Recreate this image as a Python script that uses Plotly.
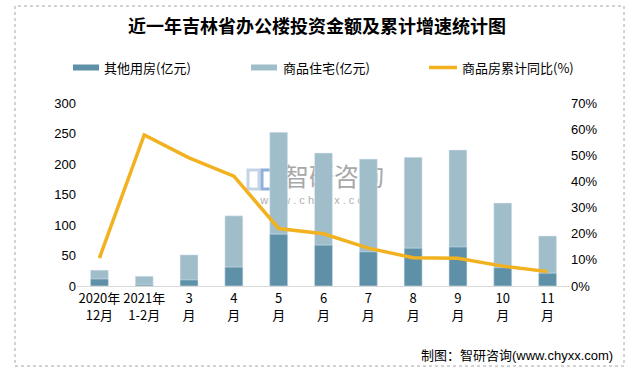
import plotly.graph_objects as go

categories = ["2020年<br>12月", "2021年<br>1-2月", "3<br>月", "4<br>月", "5<br>月", "6<br>月",
              "7<br>月", "8<br>月", "9<br>月", "10<br>月", "11<br>月"]
other_use = [11.5, 2, 10, 31, 85, 67, 56, 62, 64, 30, 21]
residential = [26, 16, 51, 115, 252, 218, 208, 211, 223, 136, 82]
yoy_pct = [10.7, 57.8, 49, 42, 22, 20, 14.5, 10.8, 10.6, 7.6, 5.5]

C_DARK = "#5e90a7"
C_LIGHT = "#a0bdca"
C_LINE = "#f2b220"

font_fam = "Liberation Sans, Noto Sans CJK SC, sans-serif"
cjk = "Noto Sans CJK SC, sans-serif"

# plot area in pixels
L, R, T, B = 77, 570, 103, 286
W, H = R - L, B - T


def px(x):
    return (x - L) / W


def py(y):
    return (B - y) / H


fig = go.Figure()
fig.add_trace(go.Bar(x=categories, y=residential, name="商品住宅(亿元)",
                     marker_color=C_LIGHT, width=0.4, yaxis="y", showlegend=False))
fig.add_trace(go.Bar(x=categories, y=other_use, name="其他用房(亿元)",
                     marker_color=C_DARK, width=0.4, yaxis="y", showlegend=False))
fig.add_trace(go.Scatter(x=categories, y=[v / 100 for v in yoy_pct], name="商品房累计同比(%)",
                         mode="lines", line=dict(color=C_LINE, width=3.5), yaxis="y2",
                         showlegend=False))

fig.update_layout(
    width=634, height=373,
    margin=dict(l=L, r=634 - R, t=T, b=373 - B, autoexpand=False),
    paper_bgcolor="white", plot_bgcolor="white",
    barmode="overlay",
    font=dict(family=font_fam, size=13, color="#000000"),
    title=dict(text="<b>近一年吉林省办公楼投资金额及累计增速统计图</b>",
               x=0.5, xanchor="center", y=1 - 27 / 373, yanchor="middle",
               font=dict(family=cjk, size=18, color="#000000")),
    showlegend=False,
    xaxis=dict(showline=True, linecolor="#d9d9d9", linewidth=1, ticks="",
               tickfont=dict(family=cjk, size=13), showgrid=False),
    yaxis=dict(range=[0, 300], dtick=50, showgrid=False, zeroline=False, ticks="",
               tickfont=dict(family=font_fam, size=13)),
    yaxis2=dict(range=[0, 0.7], dtick=0.1, tickformat=".0%", overlaying="y", side="right",
                showgrid=False, zeroline=False, ticks="",
                tickfont=dict(family=font_fam, size=13)),
)

# outer dotted frame
fig.add_shape(type="rect", xref="paper", yref="paper",
              x0=px(15), x1=px(624), y0=py(366), y1=py(6),
              line=dict(color="#a6a6a6", width=1, dash="dot"))

# manual legend
legend_items = [
    ("bar", C_DARK, 73, 99, "其他用房(亿元)", 102),
    ("bar", C_LIGHT, 251, 277, "商品住宅(亿元)", 281),
    ("line", C_LINE, 429, 457, "商品房累计同比(%)", 460),
]
for kind, col, x0, x1, label, tx in legend_items:
    if kind == "bar":
        fig.add_shape(type="rect", xref="paper", yref="paper",
                      x0=px(x0), x1=px(x1), y0=py(70.5), y1=py(64.5),
                      fillcolor=col, line=dict(width=0))
    else:
        fig.add_shape(type="line", xref="paper", yref="paper",
                      x0=px(x0), x1=px(x1), y0=py(67.5), y1=py(67.5),
                      line=dict(color=col, width=3.5))
    fig.add_annotation(text=label, xref="paper", yref="paper", x=px(tx), xanchor="left",
                       y=py(67.5), yanchor="middle", showarrow=False,
                       font=dict(family=cjk, size=13, color="#000000"))

# watermark (behind bars)
fig.add_shape(type="rect", xref="paper", yref="paper", layer="below",
              x0=px(278), x1=px(390), y0=py(190), y1=py(168),
              line=dict(width=0), fillcolor="rgba(0,0,0,0)",
              label=dict(text="智研咨询", font=dict(family=cjk, size=25, color="#a8a8a8")))
fig.add_shape(type="rect", xref="paper", yref="paper", layer="below",
              x0=px(246), x1=px(390), y0=py(206), y1=py(192),
              line=dict(width=0), fillcolor="rgba(0,0,0,0)",
              label=dict(text="w w w . c h y x x . c o m",
                         font=dict(family=font_fam, size=11, color="#b0b0b0")))
fig.add_shape(type="rect", xref="paper", yref="paper", layer="below",
              x0=px(248), x1=px(259), y0=py(189), y1=py(170),
              line=dict(color="#c5d3e6", width=3), fillcolor="rgba(0,0,0,0)")
fig.add_shape(type="rect", xref="paper", yref="paper", layer="below",
              x0=px(262), x1=px(272), y0=py(189), y1=py(170),
              line=dict(color="#8fb0d8", width=3), fillcolor="rgba(0,0,0,0)")

# source note
fig.add_annotation(text="制图：智研咨询<span style='font-family:Liberation Sans'>(www.chyxx.com)</span>",
                   xref="paper", yref="paper",
                   x=px(615), xanchor="right", y=py(354), yanchor="middle",
                   showarrow=False, font=dict(family=cjk, size=13, color="#000000"))

fig.write_html("out.html", config={"displayModeBar": False},
               post_script="document.body.style.margin='0';document.body.style.overflow='hidden';")
